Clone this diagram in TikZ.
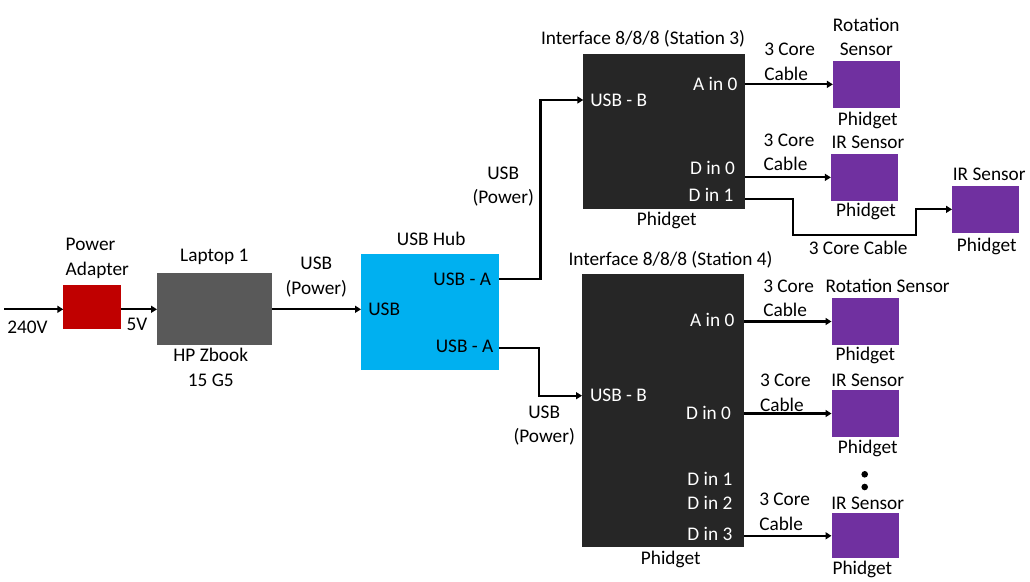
\documentclass[tikz,border=0pt]{standalone}
\usepackage{fontspec}
\setmainfont{Carlito}
\usetikzlibrary{arrows.meta}
\definecolor{padred}{HTML}{C00000}
\definecolor{lapgray}{HTML}{595959}
\definecolor{hubblue}{HTML}{00B0F0}
\definecolor{ifdark}{HTML}{262626}
\definecolor{senspurple}{HTML}{7030A0}
\begin{document}
\begin{tikzpicture}[x=1pt,y=-1pt,
  txt/.style={inner sep=0pt, outer sep=0pt, font=\fontsize{19.3}{24.3}\selectfont},
  lb/.style={txt, anchor=base},
  lbw/.style={txt, anchor=base west},
  lbe/.style={txt, anchor=base east},
  wt/.style={text=white},
  blk/.style={draw=none, inner sep=0pt, outer sep=0pt},
  sensor/.style={blk, fill=senspurple, minimum width=67pt, minimum height=46.5pt},
  arr/.style={line width=2.1pt, -{Triangle[length=6pt,width=7pt]}},
  ln/.style={line width=2.1pt}
]
\useasboundingbox (0,0) rectangle (1030,581);

% ---- boxes ----
\node[blk, fill=padred, minimum width=57.4pt, minimum height=43.7pt] (pa) at (92,306.9) {};
\node[blk, fill=lapgray, minimum width=115pt, minimum height=72.3pt] (lap) at (214.5,308.85) {};
\node[blk, fill=hubblue, minimum width=138pt, minimum height=115.7pt] (hub) at (430,311.85) {};
\node[blk, fill=ifdark, minimum width=161.7pt, minimum height=154.7pt] (s3) at (664.15,131.35) {};
\node[blk, fill=ifdark, minimum width=162pt, minimum height=272.7pt] (s4) at (663,410.35) {};
\node[sensor] (r3) at (866.35,84.35) {};
\node[sensor] (i3a) at (864.35,177.35) {};
\node[sensor] (i3b) at (985.5,209.35) {};
\node[sensor] (r4) at (865,321.5) {};
\node[sensor] (i4a) at (865,413.5) {};
\node[sensor, minimum height=45pt] (i4b) at (865,535.8) {};

% ---- port coordinates ----
\coordinate (in) at (4,309.3);
\coordinate (hubA1) at (499,279.3);
\coordinate (hubA2) at (499,347.7);
\coordinate (s3in) at (583.3,100);
\coordinate (s4in) at (582,395.7);
\coordinate (s3d1) at (745,199);

% ---- connectors ----
\draw[arr] (in) -- (in -| pa.west);
\draw[arr] (pa.east |- in) -- (lap.west |- in);
\draw[arr] (lap.east |- in) -- (hub.west |- in);
\draw[arr] (hubA1) -- (540.5,279.3) |- (s3in);
\draw[arr] (hubA2) -- (538.8,347.7) |- (s4in);
\draw[arr] (s3.east |- r3.west) -- (r3.west);
\draw[arr] (s3.east |- i3a.west) -- (i3a.west);
\draw[arr] (s3d1) -| (793.3,235) -| (916,209.35) -- (i3b.west);
\draw[arr] (s4.east |- r4.west) -- (r4.west);
\draw[arr] (s4.east |- i4a.west) -- (i4a.west);
\draw[arr] (s4.east |- i4b.west) -- (i4b.west);

\fill (864.7,474.3) circle (3.3pt);
\fill (864.7,487) circle (3.3pt);

% ---- labels: left part ----
\node[lbw, align=left] (lpa) at (65.7,275) {Power\\Adapter};
\node[lbw] (l240) at (7.3,333) {240V};
\node[lbw] (l5v) at (126.7,330.7) {5V};
\node[lb] (llap) at (214.3,261.7) {Laptop 1};
\node[lb, align=center] (lhp) at (210.8,386) {HP Zbook\\15 G5};
\node[lb, align=center] (lusb1) at (316.3,294) {USB\\(Power)};
\node[lb] (lhub) at (431.2,245.7) {USB Hub};
\node[lbw] (lhubin) at (368.3,315.7) {USB};
\node[lbe] (lhuba1) at (491,285) {USB - A};
\node[lbe] (lhuba2) at (493.3,352.7) {USB - A};
\node[lb, align=center] (lusb2) at (503.2,203.3) {USB\\(Power)};
\node[lb, align=center] (lusb3) at (544.2,442.7) {USB\\(Power)};

% ---- station 3 ----
\node[lb] (ls3) at (643,44.3) {Interface 8/8/8 (Station 3)};
\node[lbw, wt] (ls3b) at (590.3,106) {USB - B};
\node[lbe, wt] (ls3a0) at (737.3,90) {A in 0};
\node[lbe, wt] (ls3d0) at (735,174) {D in 0};
\node[lbe, wt] (ls3d1) at (733.5,201.7) {D in 1};
\node[lb] (ls3p) at (666.7,225.7) {Phidget};
\node[lbw, align=left] (lc1) at (764.3,80) {3 Core\\Cable};
\node[lbw, align=left] (lc2) at (763.7,170.7) {3 Core\\Cable};
\node[lb] (lc3) at (858.2,254) {3 Core Cable};
\node[lb, align=center] (lr3) at (866.3,55.7) {Rotation\\Sensor};
\node[lb] (lr3p) at (867.7,125) {Phidget};
\node[lb] (li3a) at (868,148.3) {IR Sensor};
\node[lb] (li3ap) at (866,216) {Phidget};
\node[lb] (li3b) at (989.2,180.7) {IR Sensor};
\node[lb] (li3bp) at (986.7,251.7) {Phidget};

% ---- station 4 ----
\node[lb] (ls4) at (670.5,265.7) {Interface 8/8/8 (Station 4)};
\node[lbw, wt] (ls4b) at (590,401.7) {USB - B};
\node[lbe, wt] (ls4a0) at (734.3,326) {A in 0};
\node[lbe, wt] (ls4d0) at (731,419) {D in 0};
\node[lbe, wt] (ls4d1) at (732.3,485.7) {D in 1};
\node[lbe, wt] (ls4d2) at (732.3,509.3) {D in 2};
\node[lbe, wt] (ls4d3) at (732.3,540) {D in 3};
\node[lb] (ls4p) at (670.7,564) {Phidget};
\node[lbw, align=left] (lc4) at (763.3,316.7) {3 Core\\Cable};
\node[lbw, align=left] (lc5) at (760,411) {3 Core\\Cable};
\node[lbw, align=left] (lc6) at (759.3,530) {3 Core\\Cable};
\node[lb] (lr4) at (887.7,292.7) {Rotation Sensor};
\node[lb] (lr4p) at (865.3,360) {Phidget};
\node[lb] (li4a) at (867.7,386.7) {IR Sensor};
\node[lb] (li4ap) at (867.7,453.3) {Phidget};
\node[lb] (li4b) at (867.7,509.3) {IR Sensor};
\node[lb] (li4bp) at (862.3,574) {Phidget};
\end{tikzpicture}
\end{document}
